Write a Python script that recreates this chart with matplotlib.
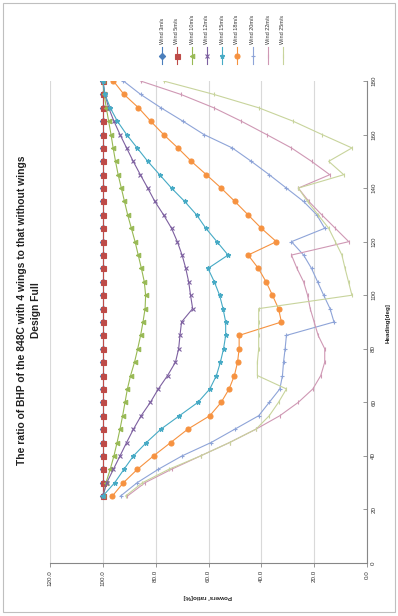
import matplotlib
matplotlib.use("Agg")
import matplotlib.pyplot as plt
from matplotlib.lines import Line2D
from matplotlib.patches import Rectangle

plt.rcParams['font.family'] = ['Liberation Sans', 'DejaVu Sans']

# heading [deg] (drawn vertically) and power ratio [%] (drawn horizontally)
headings = [25, 30, 35, 40, 45, 50, 55, 60, 65, 70, 75, 80, 85, 90, 95, 100,
            105, 110, 115, 120, 125, 130, 135, 140, 145, 150, 155, 160, 165, 170, 175, 180]

names = ["Wind 3m/s", "Wind 5m/s", "Wind 10m/s", "Wind 12m/s", "Wind 15m/s",
         "Wind 18m/s", "Wind 20m/s", "Wind 22m/s", "Wind 25m/s"]

w1 = [100.0, 100.0, 100.0, 100.0, 100.0, 100.0, 100.0, 100.0, 100.0, 100.0, 100.0, 100.0, 100.0, 100.0, 100.0, 100.0,
      100.0, 100.0, 100.0, 100.0, 100.0, 100.0, 100.0, 100.0, 100.0, 100.0, 100.0, 100.0, 100.0, 100.0, 100.0, 100.0]
w2 = [100.0, 100.0, 100.0, 100.0, 100.0, 100.0, 100.0, 100.0, 100.0, 100.0, 100.0, 100.0, 100.0, 100.0, 100.0, 100.0,
      100.0, 100.0, 100.0, 100.0, 100.0, 100.0, 100.0, 100.0, 100.0, 100.0, 100.0, 100.0, 100.0, 100.0, 100.0, 100.0]
w3 = [99.8, 98.8, 97.2, 95.8, 94.6, 93.5, 92.5, 91.6, 90.7, 89.5, 88.0, 86.8, 85.7, 84.8, 84.0, 83.8,
      84.3, 85.4, 86.6, 87.8, 89.2, 90.6, 91.8, 93.0, 94.2, 95.2, 96.1, 96.9, 97.8, 98.7, 99.5, 100.0]
w4 = [100.0, 98.5, 96.0, 93.5, 91.0, 88.4, 85.5, 82.0, 79.0, 75.5, 72.5, 71.3, 70.8, 70.2, 66.0, 66.8,
      67.5, 68.6, 70.0, 71.8, 74.0, 77.0, 80.3, 83.0, 85.8, 88.5, 91.0, 93.5, 95.8, 97.8, 99.2, 100.0]
w5 = [100.0, 95.5, 92.0, 88.4, 83.5, 78.0, 71.0, 64.0, 59.5, 57.0, 55.5, 54.3, 53.5, 53.5, 54.5, 55.8,
      57.8, 60.2, 52.6, 56.8, 61.0, 64.5, 69.0, 74.0, 78.5, 83.0, 87.0, 91.0, 94.5, 97.2, 99.2, 100.0]
w6 = [96.4, 92.2, 86.9, 80.8, 74.3, 67.8, 59.5, 55.2, 52.2, 50.2, 49.0, 48.4, 48.4, 32.4, 33.5, 35.8,
      38.2, 41.1, 45.0, 34.3, 40.0, 45.0, 50.0, 55.2, 60.8, 66.5, 71.6, 77.0, 81.9, 86.5, 92.0, 96.0]
w7 = [93.3, 87.0, 79.0, 70.0, 59.0, 50.0, 41.0, 37.0, 33.0, 32.0, 31.6, 31.0, 30.5, 12.5, 14.0, 16.4,
      18.7, 21.0, 24.0, 28.6, 16.0, 19.0, 24.0, 30.5, 37.0, 43.8, 51.0, 61.7, 69.7, 78.0, 85.7, 92.2]
w8 = [90.7, 84.0, 74.0, 63.0, 52.0, 42.0, 33.0, 26.0, 20.5, 17.5, 16.0, 16.0, 18.5, 20.0, 21.5, 22.5,
      24.0, 26.5, 28.6, 6.9, 12.0, 17.1, 22.0, 26.0, 14.1, 21.0, 28.6, 38.0, 47.6, 58.0, 70.5, 85.7]
w9 = [91.4, 85.0, 75.0, 63.0, 52.0, 42.0, 37.0, 33.5, 30.5, 41.5, 41.5, 41.0, 41.0, 41.0, 41.0, 5.7,
      7.0, 8.3, 9.5, 12.0, 14.5, 18.5, 22.5, 26.0, 8.8, 14.5, 5.7, 17.0, 28.0, 41.0, 58.0, 77.0]

series = [w1, w2, w3, w4, w5, w6, w7, w8, w9]
colors = ['#4A7EBB', '#BE4B48', '#98B954', '#7D60A0', '#46AAC5',
          '#F69240', '#8EA4D8', '#CF98B4', '#C8D49C']
markers = ['D', 's', '<', 'x', '*', 'o', '+', '|', '|']
msizes = [3.2, 3.6, 3.2, 3.0, 3.4, 3.6, 3.0, 3.0, 3.0]

W, H = 398, 616
fig = plt.figure(figsize=(W / 100, H / 100), dpi=100)


def fx(px):
    return px / W


def fy(py):
    return 1 - py / H


# chart border
fig.patches.append(Rectangle((fx(3), fy(612)), fx(392), 609 / H, transform=fig.transFigure,
                             fill=False, ec='#BFBFBF', lw=0.8))

ax = fig.add_axes([fx(50), fy(563), fx(367) - fx(50), fy(81) - fy(563)])
ax.set_xlim(120, 0)
ax.set_ylim(0, 180)

for vals, c, m, ms in zip(series, colors, markers, msizes):
    ax.plot(vals, headings, color=c, lw=0.8, marker=m, ms=ms, mfc=c, mec=c, mew=0.8)

ax.set_xticks([0, 20, 40, 60, 80, 100, 120])
ax.set_xticklabels(['%.1f' % v for v in [0, 20, 40, 60, 80, 100, 120]], rotation=90,
                   fontsize=4.5, color='#333333')
ax.set_yticks([0, 20, 40, 60, 80, 100, 120, 140, 160, 180])
ax.yaxis.tick_right()
ax.set_yticklabels([str(v) for v in [0, 20, 40, 60, 80, 100, 120, 140, 160, 180]],
                   rotation=90, va='center', fontsize=4.5, color='#333333')
ax.tick_params(axis='x', length=3, width=0.6, color='#878787', pad=2)
ax.tick_params(axis='y', length=3, width=0.6, color='#878787', pad=3, direction='in')
ax.grid(axis='x', color='#D9D9D9', lw=0.8)
ax.set_axisbelow(True)
for s in ['left', 'top']:
    ax.spines[s].set_visible(False)
for s in ['bottom', 'right']:
    ax.spines[s].set_color('#878787')
    ax.spines[s].set_linewidth(0.8)

fig.text(fx(208), fy(597), "Powers' ratio[%]", rotation=180, ha='center', va='center',
         fontsize=4.5, fontweight='bold', color='#222222')
fig.text(fx(388), fy(323), "Heading[deg]", rotation=90, ha='center', va='center',
         fontsize=4.5, fontweight='bold', color='#222222')

fig.text(fx(22), fy(310), "The ratio of BHP of the 848C with 4 wings to that without wings",
         rotation=90, ha='center', va='center', fontsize=7.4, fontweight='bold', color='#222222')
fig.text(fx(36), fy(310), "Design Full", rotation=90, ha='center', va='center',
         fontsize=7.4, fontweight='bold', color='#222222')

# legend, entries laid out left to right
leg_x = [162, 177, 192, 207, 222, 237, 253, 268, 283]
for px, name, c, m, ms in zip(leg_x, names, colors, markers, msizes):
    fig.add_artist(Line2D([fx(px), fx(px)], [fy(64), fy(47)], transform=fig.transFigure,
                          color=c, lw=0.8))
    fig.add_artist(Line2D([fx(px)], [fy(55.5)], transform=fig.transFigure, color=c,
                          marker=m, ms=ms, mfc=c, mec=c, mew=0.8))
    fig.text(fx(px), fy(44), name, rotation=90, ha='center', va='bottom',
             fontsize=4, color='#333333')

fig.savefig('out.png', dpi=100)
